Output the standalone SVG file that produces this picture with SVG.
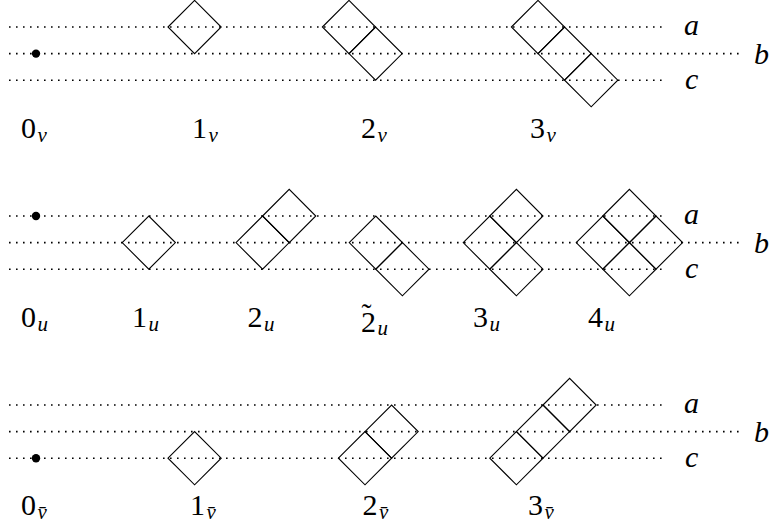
<svg xmlns="http://www.w3.org/2000/svg" xmlns:xlink="http://www.w3.org/1999/xlink" width="775" height="529" viewBox="0 0 775 529">
<style>
.ln{fill:none;stroke:#000;stroke-width:1.6;stroke-dasharray:1.6 5.4}
.sq{fill:none;stroke:#000;stroke-width:1.1;stroke-linejoin:miter}
text{font-family:'Liberation Serif','Times New Roman',serif;font-size:30px;fill:#000}
.it{font-style:italic}
.sub{font-style:italic;font-size:21px}
</style>
<defs>
<path id="sq" class="sq" d="M-26.6 0L0 -26.6L26.6 0L0 26.6Z"/>
</defs>
<rect width="775" height="529" fill="#fff"/>
<g id="connectors">
<path class="ln" d="M9 27H667M9 53.6H740M9 80.2H667"/>
<path class="ln" d="M9 216H667M9 242.6H740M9 269.2H667"/>
<path class="ln" d="M9 405H667M9 431.6H740M9 458.2H667"/>
</g>
<g id="row-v">
<g id="v0"><circle cx="36" cy="53.6" r="4.2"/><text x="21" y="138">0<tspan class="sub" dx="1.5" dy="3.5">v</tspan></text></g>
<g id="v1"><use xlink:href="#sq" x="194.6" y="27"/><text x="192" y="138">1<tspan class="sub" dx="1.5" dy="3.5">v</tspan></text></g>
<g id="v2"><use xlink:href="#sq" x="349" y="27"/><use xlink:href="#sq" x="375.6" y="53.6"/><text x="361" y="138">2<tspan class="sub" dx="1.5" dy="3.5">v</tspan></text></g>
<g id="v3"><use xlink:href="#sq" x="538" y="27"/><use xlink:href="#sq" x="564.6" y="53.6"/><use xlink:href="#sq" x="591.2" y="80.2"/><text x="530" y="138">3<tspan class="sub" dx="1.5" dy="3.5">v</tspan></text></g>
<g id="lab-top"><text class="it" x="684" y="35">a</text><text class="it" x="754" y="64">b</text><text class="it" x="685" y="88.5">c</text></g>
</g>
<g id="row-u">
<g id="u0"><circle cx="36" cy="216" r="4.2"/><text x="21" y="327">0<tspan class="sub" dx="1.5" dy="3.5">u</tspan></text></g>
<g id="u1"><use xlink:href="#sq" x="148.8" y="242.6"/><text x="132" y="327">1<tspan class="sub" dx="1.5" dy="3.5">u</tspan></text></g>
<g id="u2"><use xlink:href="#sq" x="262.6" y="242.6"/><use xlink:href="#sq" x="289.2" y="216"/><text x="247.5" y="327">2<tspan class="sub" dx="1.5" dy="3.5">u</tspan></text></g>
<g id="u2t"><use xlink:href="#sq" x="375.8" y="242.6"/><use xlink:href="#sq" x="402.4" y="269.2"/><text x="361" y="331.5">2<tspan x="361.5" y="323.5">˜</tspan><tspan class="sub" x="377.5" y="335">u</tspan></text></g>
<g id="u3"><use xlink:href="#sq" x="489.8" y="242.6"/><use xlink:href="#sq" x="516.4" y="216"/><use xlink:href="#sq" x="516.4" y="269.2"/><text x="473" y="327">3<tspan class="sub" dx="1.5" dy="3.5">u</tspan></text></g>
<g id="u4"><use xlink:href="#sq" x="602.8" y="242.6"/><use xlink:href="#sq" x="629.4" y="216"/><use xlink:href="#sq" x="629.4" y="269.2"/><use xlink:href="#sq" x="656" y="242.6"/><text x="588" y="327">4<tspan class="sub" dx="1.5" dy="3.5">u</tspan></text></g>
<g id="lab-mid"><text class="it" x="684" y="224">a</text><text class="it" x="754" y="253">b</text><text class="it" x="685" y="277.5">c</text></g>
</g>
<g id="row-vbar">
<g id="w0"><circle cx="36" cy="458.2" r="4.2"/><text x="21" y="515">0<tspan class="sub" dx="1.5" dy="3.5">v̄</tspan></text></g>
<g id="w1"><use xlink:href="#sq" x="194.6" y="458.2"/><text x="190" y="515">1<tspan class="sub" dx="1.5" dy="3.5">v̄</tspan></text></g>
<g id="w2"><use xlink:href="#sq" x="365" y="458.2"/><use xlink:href="#sq" x="391.6" y="431.6"/><text x="362.5" y="515">2<tspan class="sub" dx="1.5" dy="3.5">v̄</tspan></text></g>
<g id="w3"><use xlink:href="#sq" x="516.4" y="458.2"/><use xlink:href="#sq" x="543" y="431.6"/><use xlink:href="#sq" x="569.6" y="405"/><text x="528" y="515">3<tspan class="sub" dx="1.5" dy="3.5">v̄</tspan></text></g>
<g id="lab-bot"><text class="it" x="684" y="413">a</text><text class="it" x="754" y="442">b</text><text class="it" x="685" y="466.5">c</text></g>
</g>
</svg>
